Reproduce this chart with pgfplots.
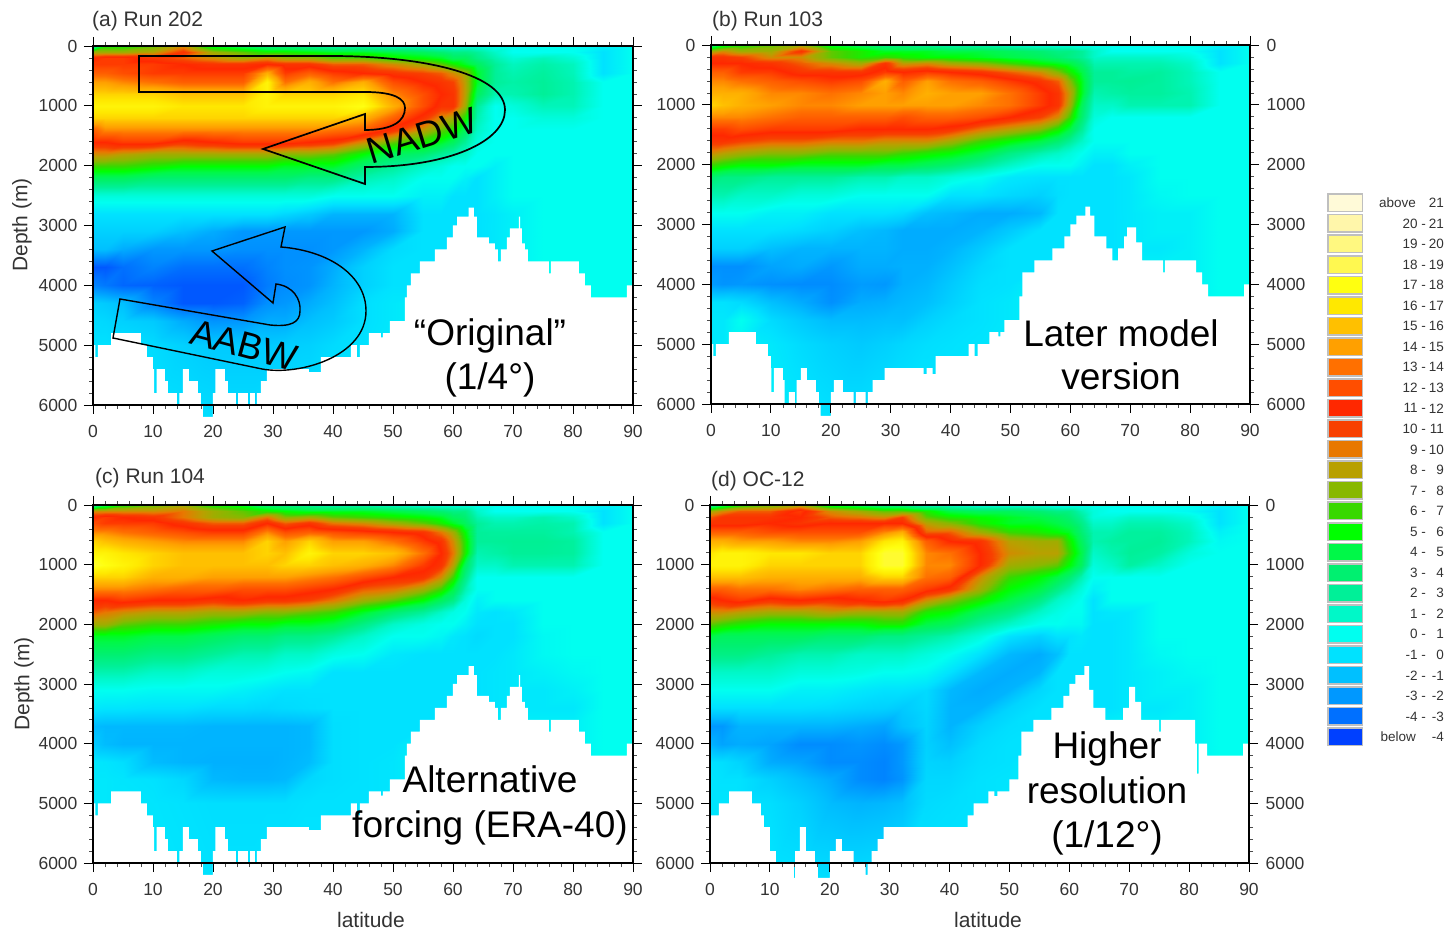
\documentclass[border=0pt]{standalone}
\usepackage{pgfplots}
\pgfplotsset{compat=1.18}
\usepackage{fontspec}
\setmainfont{Liberation Sans}
\definecolor{tk}{HTML}{333333}
\pgfplotsset{colormap={moc}{
rgb255=(0,64,255) rgb255=(0,112,255) rgb255=(0,152,255) rgb255=(0,192,255) rgb255=(0,226,255)
rgb255=(0,255,240) rgb255=(0,248,200) rgb255=(0,240,152) rgb255=(0,240,112) rgb255=(0,248,72)
rgb255=(0,255,0) rgb255=(56,216,0) rgb255=(136,184,0) rgb255=(184,160,0) rgb255=(232,120,0)
rgb255=(248,64,0) rgb255=(255,40,0) rgb255=(255,78,0) rgb255=(255,112,0) rgb255=(255,160,0)
rgb255=(255,192,0) rgb255=(255,232,0) rgb255=(255,255,16) rgb255=(255,248,80) rgb255=(255,248,128)
rgb255=(255,246,170) rgb255=(255,250,216)}}
% grid of the field: latitudes of the columns
\foreach \x [count=\i] in {0,2,5,10,15,20,25,29,32,36,40,45,50,55,58,60,62,64,67,70,75,80,85,90}{\expandafter\xdef\csname lat\i\endcsname{\x}}
\newcommand\R[2]{\foreach \v [count=\i] in {#2}{\xdef\cl{\cl (\csname lat\i\endcsname,#1) [\v]}}}
% ---- panel a
\gdef\cl{}
\R{0}{2,6,6,7,9,5,4,3,3,2.5,2,2,1.5,1.5,1,1,1,1,.5,.5,.5,.5,0,.5}
\R{100}{8,8,8,8.5,11,8,7,6,6,5.5,5,5,4.5,4,3.5,3,3,2.5,1.5,.5,.5,.5,-.5,.5}
\R{200}{11.5,12,12,11,10,9,8,9,8,8,7,7,6,5.5,5,4,4,3,2,1.2,1.8,1.2,-.5,.5}
\R{300}{12,12,12,12,11.5,11,11,11.5,11,11,10,10,9,8,7,6,5,4,2.5,1.7,2.2,1.7,-.5,.5}
\R{450}{13,13,12.5,12,12,12,12,15,12,13,12,11.5,11,10.5,10,9,8,5,2.5,2,2.4,1.8,-.5,.5}
\R{600}{14.5,14.5,14,13.5,13,13,13,17,13.5,15,13.5,15,12.5,11.5,11,10.5,8.5,5,2.5,2.2,2.5,2,.5,.5}
\R{800}{16,16,16,16,15.5,15.5,15.5,17,16,16,16,16.5,14,12.5,11.5,11,8.5,4,2,2,2.5,2,.5,.5}
\R{1000}{17,17,17,17,16.5,16.5,16.5,17,17,17,17,17.5,15,12.5,11,11,8,2.5,.5,1,1.8,1.8,.5,.5}
\R{1200}{16,16,16,16,16,16,16,16,16,16,16,15,13,11,9,8,6,2,.5,.5,1,1,.5,.5}
\R{1400}{13,14,14,14,14,14,14,14,14,14,13.5,13,11,8.5,7,6,4,1.5,.5,.5,.5,.5,.5,.5}
\R{1600}{11.5,11.5,12,12,11,11.5,12,12,12,11.5,11,9,7,6,5,4,2.5,1,.5,.5,.5,.5,.5,.5}
\R{1800}{9,9,8.5,8,8,8,8,8,7.5,7.5,7,5.5,4,3.5,2.5,2,1.5,.5,.5,.5,.5,.5,.5,.5}
\R{2000}{6.5,6.5,6.5,6,5.5,5.5,5.5,5.5,5,5,5,3.5,2.5,1.5,1,.5,.5,.5,0,.5,.5,.5,.5,.5}
\R{2200}{4,4,4,3.5,3.5,3.5,3.5,3.5,3.5,3,3,2,1.5,.5,.5,.5,0,-.5,0,.5,.5,.5,.5,.5}
\R{2500}{1,1,1,1,1,1,1,1,1,1,.5,.5,.5,0,0,-.5,-.5,-.5,0,.5,.5,.5,.5,.5}
\R{2800}{-.5,-.5,-.5,-.5,-.5,-.5,-.5,-.5,-.8,-1.2,-1.8,-1.8,-1.8,-.5,-.5,-.5,-.5,-.5,-.3,0,.5,.5,.5,.5}
\R{3100}{-1,-1,-1,-1,-1.5,-2,-2.5,-2.5,-2.5,-2.5,-2.5,-2.5,-2,-.5,-.5,-.5,-.5,-.5,-.3,0,.5,.5,.5,.5}
\R{3400}{-1.5,-1.5,-2,-2.5,-2.5,-2.5,-2.7,-2.7,-2.7,-2.7,-2.5,-1.8,-.7,-.5,-.5,-.5,-.5,-.5,-.3,0,.5,.5,.5,.5}
\R{3700}{-4,-4,-3.5,-3,-3.5,-3.5,-3.5,-3,-2.7,-2.6,-2,-1,-.5,-.5,-.5,-.5,-.5,-.5,-.3,0,.5,.5,.5,.5}
\R{4000}{-3,-3.3,-3.7,-3.8,-4,-4,-4,-3.2,-2.8,-2.6,-1.8,-1,-.5,-.5,0,0,0,0,0,0,.5,.5,.5,.5}
\R{4300}{-1,-1.2,-1.5,-3,-4,-4,-3.8,-2.7,-2.5,-2,-1.5,-.6,-.3,0,0,0,0,0,0,0,.5,.5,.5,.5}
\R{4600}{-.7,-.8,-1,-1.2,-2,-2.6,-2.5,-2,-2,-1.5,-1.2,-.6,-.3,0,0,0,0,0,0,0,.5,.5,.5,.5}
\R{5000}{-.5,-.5,-.5,-.7,-1,-1.2,-1.2,-1.2,-1.1,-1,-.7,-.5,-.3,0,0,0,0,0,0,0,.5,.5,.5,.5}
\R{6260}{-.3,-.3,-.3,-.4,-.5,-.6,-.6,-.5,-.4,-.4,-.4,-.3,-.3,0,0,0,0,0,0,0,.5,.5,.5,.5}
\global\let\fieldA\cl
% ---- panel b
\gdef\cl{}
\R{0}{3,5,6,7,8,5,4,3,3,2.5,2,2,1.5,1,1,1,.5,.5,.5,.5,.5,.5,0,.5}
\R{100}{8,9,8,8,11,7,6,5,5,5,4.5,4.5,4,3.5,3,3,2.5,1.5,.5,.5,.5,.5,-.5,.5}
\R{200}{11,11,10.5,9,9,7,6,6.5,6,5.5,5.5,5,4.5,4,3.5,3,2.5,1.5,1.5,1.5,1.5,1,-.5,.5}
\R{300}{11.5,11.5,11.5,11,10,9,8,11,8.5,9,8,7.5,6.5,5.5,5,4.5,3.5,2,2,2,2,1.5,-.5,.5}
\R{450}{13,13,12,12,11,11,11,12,11.5,12,11.5,11,10,9,7.5,6,4.5,2.5,2.5,2.3,2.4,1.8,.5,.5}
\R{600}{14,14,13.5,13,12.5,12,12.5,15,13,14.5,13.5,13,12,11,10,7.5,5,2.5,2.5,2.6,2.4,1.8,.5,.5}
\R{800}{15,15,15,14,14,13.5,14,14.5,14,15,14.5,14.5,13.5,12,11,8.5,5,2,2.2,2.4,2.4,2,.5,.5}
\R{1000}{16,15.5,15,14.5,14,14,14.5,14.5,14.5,14.5,14.5,14,13.5,12,11,8,4,1.5,1.5,2,2,2,.5,.5}
\R{1200}{14,14,14,13.5,13,13,13,13,12.5,13,13,12.5,11.5,10.5,9,6.5,3.5,1,.5,.5,.5,.5,.5,.5}
\R{1400}{12,12,12.5,12,12,12,11.5,11.5,11.5,11.5,11,9.5,8.5,7.5,6,4.5,2.5,.5,.5,.5,.5,.5,.5,.5}
\R{1600}{11,11,10.5,10,10,9.5,9.5,9,9,9,8,6.5,5.5,4.5,3.5,2.5,1.5,.5,.5,.5,.5,.5,.5,.5}
\R{1800}{9,8.5,8,7.5,7.5,7,7,7,6.5,6,5.5,4.5,3,2,1.5,1,.5,0,0,.5,.5,.5,.5,.5}
\R{2000}{6.5,6,5.5,5.5,5,5,5,4.5,4.5,4,3.5,2.5,1.5,.5,.5,.5,0,-.5,-.5,0,.5,.5,.5,.5}
\R{2200}{3.5,3,3,2.5,2.5,2.5,2,2,1.5,1.5,1,.5,-.3,-.5,-.5,-.5,-.5,-.5,-.5,-.3,.5,.5,.5,.5}
\R{2500}{2,2,1.5,1.5,1,1,.5,.5,.5,.5,-.5,-.5,-.8,-1,-.6,-.5,-.5,-.5,-.5,-.3,.3,.5,.5,.5}
\R{2800}{.5,.5,.5,0,0,-.5,-.5,-.5,-.7,-1.5,-1.7,-2,-2,-1.7,-.5,-.5,-.5,-.5,-.5,-.3,0,0,.5,.5}
\R{3100}{-.5,-.5,-.5,-.5,-.7,-1,-1.5,-1.7,-2,-2,-2,-1.8,-1.2,-.5,-.5,-.5,-.5,-.5,-.5,-.3,0,0,.5,.5}
\R{3400}{-1,-1,-1,-1.5,-1.8,-1.8,-1.8,-1.8,-2,-2,-1.8,-1.2,-.5,-.5,-.5,-.5,-.5,-.5,-.5,-.3,-.3,0,.5,.5}
\R{3700}{-2.7,-2.7,-2.7,-2.2,-2,-2.5,-2,-2,-1.9,-1.9,-1.5,-.8,-.5,-.5,0,0,0,0,0,0,0,0,.5,.5}
\R{4000}{-2.4,-2.6,-2.5,-2.7,-2.8,-2.8,-2.4,-2.5,-1.9,-1.7,-1.2,-.6,-.5,0,0,0,0,0,0,0,0,0,.5,.5}
\R{4300}{-.5,-.5,-.7,-1.5,-2,-2.7,-2,-1.9,-1.7,-1.5,-1,-.5,-.3,0,0,0,0,0,0,0,0,0,.5,.5}
\R{4600}{-.3,-.3,.5,-.7,-1.2,-1.6,-1.6,-1.5,-1.5,-1,-.7,-.5,-.3,0,0,0,0,0,0,0,0,0,.5,.5}
\R{5000}{-.3,-.3,0,-.3,-.7,-1,-1.2,-1,-.8,-.6,-.5,-.4,-.3,0,0,0,0,0,0,0,0,0,.5,.5}
\R{6260}{-.3,-.3,0,0,-.3,-.5,-.5,-.4,-.3,-.3,-.3,-.3,-.3,0,0,0,0,0,0,0,0,0,.5,.5}
\global\let\fieldB\cl
% ---- panel c
\gdef\cl{}
\R{0}{2,4,6,7,8,6,5,3.5,3,2.5,2,2,1.5,1,1,1,1,.5,.5,.5,.5,.5,0,.5}
\R{100}{9,9,9,9,9.5,8,7,6,5.5,5,5,5,4.5,4,3.5,3,3,1.5,.5,.5,.5,.5,-.5,.5}
\R{200}{11.5,12,11.5,11,9.5,8,7.5,9.5,7.5,8,7,6.5,6,5.5,5,4,3.5,2,1.5,1.5,2,1.5,-.5,.5}
\R{300}{12.5,12,12,12,11,10,10,11.5,10,11,9.5,9,8,7,6,5,4,2.5,2,2,2.2,2,-.5,.5}
\R{450}{14,14,13.5,13,12.5,12,12,14,12.5,13,12.5,12,11.5,11,9.5,8,5.5,2.5,2.4,2.4,2.4,2,.5,.5}
\R{600}{16,15.5,15,14.5,14,14,14,16,14.5,16,14.5,14.5,13.5,12,11,9,6,2.5,2.5,2.6,2.6,2.4,.5,.5}
\R{800}{17,17,16.5,16,15.5,15.5,15.5,16,15.5,17,16,16,15.5,13.5,11.5,9.5,6,2,2.2,2.5,2.5,2.4,.5,.5}
\R{1000}{18,17.5,17,16,15.5,15.5,15.5,15.5,16,16,15.5,15,14,12,11,8.5,4,1.5,1.5,2,2,2,.5,.5}
\R{1200}{16,16,16,15,15,14.5,14.5,14.5,14.5,14,13.5,12.5,11.5,11,9,6.5,3,.5,.5,.5,.5,.5,.5,.5}
\R{1400}{14,14,14,13.5,13,13,12.5,12.5,12.5,12,11.5,10,9.5,8,6.5,4.5,2,.5,.5,.5,.5,.5,.5,.5}
\R{1600}{11.5,11.5,12,11.5,11.5,11,11.5,11,11,10.5,9.5,8,7,5.5,4,3,1,0,.5,.5,.5,.5,.5,.5}
\R{1800}{10,9.5,9,8.5,8.5,8,8,7.5,7.5,7,6.5,5,3.5,2.5,1.5,.8,.5,-.3,-.5,-.3,.5,.5,.5,.5}
\R{2000}{8,8,7,6.5,6.5,6,5.5,5.5,5,5,4.5,3,1.5,.8,.5,.5,0,-.5,-.5,-.5,.5,.5,.5,.5}
\R{2200}{5,5,5,4.5,4.5,4,3.5,3.5,3,3,2.5,1.5,.5,.5,.2,-.3,-.5,-.7,-.5,-.5,.3,.5,.5,.5}
\R{2500}{3.5,3.5,3.5,3,3,2.5,2,2,1.5,1.5,.8,.5,-.3,-.5,-.5,-.5,-.5,-.5,-.5,-.3,.3,.5,.5,.5}
\R{2800}{2,2,2,1.5,1.5,1,1,.8,.5,.3,-.5,-.5,-.5,-.5,-.5,-.5,-.5,-.5,-.4,-.3,0,.3,.5,.5}
\R{3100}{.5,.5,.5,.3,.3,.3,0,-.3,-.5,-.5,-.5,-.5,-.5,-.5,-.5,-.5,-.5,-.5,-.4,-.3,-.3,0,.5,.5}
\R{3400}{-.3,-.4,-.4,-.5,-.5,-.7,-.7,-.8,-.7,-.6,-.5,-.5,-.5,-.5,-.5,-.5,-.5,-.5,-.4,-.3,-.3,-.3,.5,.5}
\R{3700}{-1.6,-1.7,-1.7,-1.7,-1.7,-1.8,-1.8,-1.8,-1.8,-1.7,-.6,-.5,-.5,-.5,0,0,0,0,0,0,0,0,.5,.5}
\R{4000}{-1.2,-1.6,-1.8,-1.8,-1.8,-1.8,-1.8,-1.8,-1.8,-1.7,-.6,-.5,-.5,0,0,0,0,0,0,0,0,0,.5,.5}
\R{4300}{-.3,-.4,-.6,-1.6,-1.8,-1.9,-1.9,-1.9,-1.8,-1.6,-.6,-.5,-.4,0,0,0,0,0,0,0,0,0,.5,.5}
\R{4600}{-.3,-.3,-.4,-.5,-.8,-1.7,-1.8,-1.8,-1.7,-.8,-.6,-.5,-.4,0,0,0,0,0,0,0,0,0,.5,.5}
\R{5000}{-.3,-.3,-.3,-.4,-.5,-.6,-.6,-.6,-.6,-.5,-.5,-.5,-.3,0,0,0,0,0,0,0,0,0,.5,.5}
\R{6260}{-.3,-.3,-.3,-.3,-.4,-.5,-.5,-.4,-.4,-.4,-.4,-.3,-.3,0,0,0,0,0,0,0,0,0,.5,.5}
\global\let\fieldC\cl
% ---- panel d
\gdef\cl{}
\R{0}{2,4,6,7,8,5,4,3,3,1.5,1.5,1,1,1,.5,.5,.5,.5,.5,.5,.5,.5,0,.5}
\R{100}{8,9,10,10,12,9,8,7,7,6,4.5,4,4,3.5,3,3,2,1,.5,.5,.5,.3,-.5,.5}
\R{200}{10,11,11,11,11.5,10,9.5,9,10.5,7,6,5.5,5,4.5,4,3.5,2.5,1,1,1.5,1.5,1,-.5,.5}
\R{300}{11,11,11,11.5,11,11.5,11.5,11.5,11.5,8.5,7.5,6,5,5,4.5,4,3,1.5,1.5,2,2,1.5,-.5,.5}
\R{450}{13,13,13,12.5,12.5,12.5,12.5,14,15,10,10,8,6.5,6,5.5,5,3.5,2,2,2.4,2.4,1.8,0,.5}
\R{600}{15,15,14.5,14.5,14,14,14.5,16.5,17,13,11.5,11,8.5,8,8,6,4,2,2.3,2.4,2.5,1.8,.3,.5}
\R{800}{16.5,17,17,16.5,16.5,16,16,18,18,14,13.5,11.5,9,8.5,8.5,6.5,4.5,1.5,2,2.5,2.3,1,.5,.5}
\R{1000}{17,17,17,16,16,16,16,18,18,14,14,11.5,8,7.5,7,5.5,4,1,1.5,2.3,1.5,.5,.5,.5}
\R{1200}{15.5,15.5,15.5,15,15,15,15,16,16,13.5,13,9,6.5,5.5,4.5,3.5,2,.5,.5,.5,.5,.5,.5,.5}
\R{1400}{13,13,13.5,13.5,14,13.5,13,13,13,12,11,8,5.5,4.5,3,2,1,0,.5,.5,.5,.5,.5,.5}
\R{1600}{11,11.5,12,11,11.5,11,11.5,12,11.5,9,7.5,6,4.5,3,1.5,1,.5,-.5,.5,.5,.5,.5,.5,.5}
\R{1800}{9,9,8.5,8,8,8.5,8,8,8,6,5.5,4,3,1.5,.8,.5,.5,-.5,-.3,-.3,.5,.5,.5,.5}
\R{2000}{7,6.5,6,5.5,5.5,5.5,5.5,6,6,4.5,4,2.5,1.5,.5,.5,.3,.3,-.5,-.5,-.3,.5,.5,.5,.5}
\R{2200}{4.5,4,4,4,4,3.5,3.5,3,3,2.5,2,1,-.5,-1,-.5,-.5,-.3,-.5,-.5,-.3,.5,.5,.5,.5}
\R{2500}{3,3,3,2.5,2,2,1.5,1.5,1.5,1,.5,-.5,-1.7,-2,-1.5,-.5,-.5,-.5,-.5,-.3,.3,.5,.5,.5}
\R{2800}{1.5,1.5,1.5,1.5,1,1,.8,.5,.5,.3,-.5,-1.7,-2,-1.8,-.5,-.5,-.5,-.5,-.5,-.3,0,.3,.5,.5}
\R{3100}{.5,.5,.5,.5,0,0,-.3,-.5,-.5,-.7,-1.7,-2,-1.8,-.8,-.5,-.5,-.5,-.5,-.5,-.3,0,0,.5,.5}
\R{3400}{-.6,-.6,-.6,-.6,-.6,-.7,-.9,-1,-1.2,-.8,-1.8,-1.8,-.9,-.5,-.5,-.5,-.5,-.5,-.5,-.3,-.3,0,.5,.5}
\R{3700}{-2.5,-2.5,-1.8,-1.8,-1.8,-1.8,-2,-2.2,-1.5,-.9,-1.8,-1,-.6,-.5,0,0,0,0,0,0,0,0,.5,.5}
\R{4000}{-1.8,-2.2,-2,-2.2,-2.8,-2.8,-2.6,-2.8,-2.5,-1,-1.5,-.7,-.5,-.5,0,0,0,0,0,0,0,0,.5,.5}
\R{4300}{-.5,-.6,-.9,-2,-2.2,-2.8,-2.8,-3,-2.5,-.9,-1,-.6,-.5,0,0,0,0,0,0,0,0,0,.5,.5}
\R{4600}{-.4,-.5,-.5,-1,-1.5,-2,-2.8,-3,-2.6,-.8,-.8,-.5,-.4,0,0,0,0,0,0,0,0,0,.5,.5}
\R{5000}{-.4,-.4,-.5,-.6,-1,-1.6,-1.8,-1.7,-1.5,-.7,-.6,-.5,-.3,0,0,0,0,0,0,0,0,0,.5,.5}
\R{6260}{-.3,-.3,-.3,-.4,-.5,-.6,-.6,-.5,-.4,-.4,-.4,-.3,-.3,0,0,0,0,0,0,0,0,0,.5,.5}
\global\let\fieldD\cl

\newcommand\field[1]{\edef\temp{\noexpand\addplot[surf,shader=interp,mesh/rows=24,point meta=explicit,forget plot] coordinates {#1};}\temp}
\newcommand\seafloor[1]{\addplot[const plot,fill=white,draw=none,forget plot] coordinates {#1};}
\def\floorA{(0,6290)(0,5000)(.4,5200)(.8,5000)(3,4800)(8,5000)(9,5200)(10,5400)(10.2,5800)(10.6,5400)(12,5600)(12.5,5800)(14,6000)(14.4,5800)(15,5400)(16,5600)(17.5,5800)(18,6000)(18.3,6200)(20,5800)(20.4,5400)(22,5600)(22.5,5800)(23.8,6000)(24.2,5800)(25.8,6000)(26.2,5800)(27,6000)(27.3,5800)(28,5600)(29,5400)(36,5450)(38,5200)(43,5000)(44,5200)(44.5,5000)(46,4800)(48,4870)(48.3,4800)(49.5,4600)(52,4200)(52.3,4000)(53,3800)(54.5,3600)(57,3400)(59,3200)(60,3000)(60.7,2850)(62.6,2700)(63.5,2850)(64,3200)(66,3300)(67,3400)(67.5,3600)(68,3400)(69,3200)(69.5,3050)(71,2850)(71.2,3050)(71.5,3300)(72,3400)(72.5,3600)(76,3800)(76.3,3600)(81,3800)(82,4000)(83,4200)(89,4000)(90,4000)(90,6290)}
\def\floorB{(0,6290)(0,5000)(.4,5200)(.8,5000)(3,4800)(7.5,5000)(9.5,5200)(10,5400)(10.1,5800)(10.5,5400)(12,5600)(12.3,6000)(13,5800)(14,6000)(14.3,5600)(15,5400)(16,5600)(17.5,5800)(18,6000)(18.3,6200)(20,5800)(20.5,5600)(22,5800)(23.8,6000)(24.2,5800)(25.8,6000)(26.2,5800)(27,5600)(29,5400)(35.5,5500)(36,5400)(37,5500)(37.5,5200)(43,5000)(44,5200)(44.5,5000)(46.5,4800)(48,4870)(48.3,4800)(49,4600)(51.5,4200)(52,3800)(54,3600)(57,3400)(59,3200)(60,3000)(61,2850)(62.5,2700)(63.3,2850)(64,3200)(66,3400)(67,3600)(68,3400)(69,3200)(69.5,3050)(71,3300)(72,3600)(75.5,3800)(75.8,3600)(81,3800)(82,4000)(83,4200)(89,4000)(90,4000)(90,6290)}
\def\floorD{(0,6290)(0,5200)(1.5,5000)(3.2,4800)(7,5000)(8.5,5200)(9,5400)(10,5800)(11,6000)(14,6250)(14.2,5800)(15,5400)(16,5800)(17.5,6000)(18,6250)(20,5800)(21,5600)(22,5800)(24,6000)(26,6200)(26.3,6000)(27,5800)(28,5600)(29,5400)(43,5200)(44,5000)(46.5,4800)(47.5,4880)(48,4800)(50,4600)(51.5,4200)(52,3800)(54,3600)(57,3400)(59,3200)(60,3000)(61,2850)(62.5,2700)(63.3,3100)(64,3400)(66,3600)(69,3400)(70,3050)(71,3300)(72,3600)(75,3800)(75.3,3600)(81,4000)(81.3,4500)(81.6,4000)(83,4200)(89,4000)(90,4000)(90,6290)}

\pgfplotsset{panel/.style={
  scale only axis,anchor=south west,
  xmin=0,xmax=90,ymin=0,ymax=6000,y dir=reverse,clip=false,axis on top,
  colormap name=moc,point meta min=-4.5,point meta max=21.5,
  xtick={0,10,...,90},ytick={0,1000,...,6000},minor x tick num=4,minor y tick num=4,
  tick align=outside,major tick length=9pt,minor tick length=4pt,
  tick style={black,line width=.9pt},minor tick style={black!70,line width=.7pt},
  axis line style={line width=1.1pt},
  scaled ticks=false,
  /pgf/number format/set thousands separator={},
  /pgf/number format/assume math mode=true,
  tick label style={font=\fontsize{17.5}{20}\selectfont,text=tk},
  xticklabel style={yshift=-8pt},
  yticklabel style={xshift=-3pt},
  xtick pos=both,ytick pos=both,
}}
\pgfplotsset{rightlabels/.style={
  scale only axis,anchor=south west,
  xmin=0,xmax=90,ymin=0,ymax=6000,y dir=reverse,
  axis x line=none,axis y line*=right,ytick={0,1000,...,6000},
  tick align=outside,major tick length=9pt,
  tick style={draw=none},axis line style={draw=none},
  /pgf/number format/set thousands separator={},scaled ticks=false,
  /pgf/number format/assume math mode=true,
  tick label style={font=\fontsize{17.5}{20}\selectfont,text=tk},
  yticklabel style={xshift=4pt},
}}
\newcommand\lab[4][0]{\node[rotate=#1,text=black,font=\fontsize{37}{40}\selectfont,inner sep=0pt] at (#2pt,#3pt) {#4};}
\newcommand\ttl[3]{\node[anchor=west,text=tk,font=\fontsize{21}{24}\selectfont,inner sep=0pt] at (#1pt,#2pt) {#3};}
\newcommand\keyrow[4]{\fill[black!25] (1327pt,#1pt-9.5pt) rectangle (1363pt,#1pt+9.5pt);\fill[#2] (1328.5pt,#1pt-8pt) rectangle (1361.5pt,#1pt+8pt);
  \node[anchor=east,inner sep=0pt,text=tk,font=\fontsize{13.5}{15}\selectfont] at (#3,#1pt) {#4};}
\begin{document}
\begin{tikzpicture}[x=1pt,y=1pt]
\path[use as bounding box] (0,0) rectangle (1449,931);
% panel a
\begin{axis}[panel,at={(93pt,526pt)},width=540pt,height=359pt]
\field{\fieldA}
\seafloor{\floorA}
\end{axis}
% panel b
\begin{axis}[panel,at={(711pt,527pt)},width=539pt,height=359pt]
\field{\fieldB}
\seafloor{\floorB}
\end{axis}
\begin{axis}[rightlabels,at={(711pt,527pt)},width=539pt,height=359pt]\end{axis}
% panel c
\begin{axis}[panel,at={(93pt,68pt)},width=540pt,height=358pt]
\field{\fieldC}
\seafloor{\floorA}
\end{axis}
% panel d
\begin{axis}[panel,at={(710pt,68pt)},width=539pt,height=358pt]
\field{\fieldD}
\seafloor{\floorD}
\end{axis}
\begin{axis}[rightlabels,at={(710pt,68pt)},width=539pt,height=358pt]\end{axis}
% titles and axis names
\ttl{92}{910}{(a) Run 202}
\ttl{712}{910}{(b) Run 103}
\ttl{95}{453}{(c) Run 104}
\ttl{711}{450}{(d) OC-12}
\node[rotate=90,text=tk,font=\fontsize{21}{24}\selectfont,inner sep=0pt] at (22,706) {Depth (m)};
\node[rotate=90,text=tk,font=\fontsize{21}{24}\selectfont,inner sep=0pt] at (24,247) {Depth (m)};
\node[text=tk,font=\fontsize{21}{24}\selectfont,inner sep=0pt] at (371,11) {latitude};
\node[text=tk,font=\fontsize{21}{24}\selectfont,inner sep=0pt] at (988,11) {latitude};
% circulation arrows
\draw[line width=1.7pt,black,line join=miter] (139,875) -- (139,839) -- (365,839) .. controls (395,839) and (405,832) .. (405,823) .. controls (405,810) and (393,801) .. (365,801) -- (365,817) -- (263,782) -- (365,747) -- (365,764) .. controls (450,764) and (505,790) .. (505,821) .. controls (505,855) and (430,875) .. (330,875) -- cycle;
\draw[line width=1.4pt,black,line join=miter] (120,632) -- (113,593) -- (262,562) .. controls (300,555) and (366,575) .. (366,620) .. controls (366,655) and (330,680) .. (281,684) -- (285,704) -- (212,680) -- (273,628) -- (276,647) .. controls (293,645) and (301,632) .. (300,620) .. controls (300,608) and (290,604) .. (270,606) -- cycle;
\lab[17]{422}{795}{NADW}
\lab[-15]{244}{586}{AABW}
\lab{490}{595}{“Original”}
\lab{490}{551}{(1/4°)}
\lab{1121}{598}{Later model}
\lab{1121}{555}{version}
\lab{490}{152}{Alternative}
\lab{490}{103}{forcing (ERA-40)}
\lab{1107}{182}{Higher}
\lab{1107}{141}{resolution}
\lab{1107}{93}{(1/12°)}
% colour key
\foreach \yy/\cc/\aa/\bb in {
728/FFFAD8/above/21,707.5/FFF6AA/20 -/21,687/FFF880/19 -/20,666.4/FFF850/18 -/19,645.9/FFFF10/17 -/18,625.4/FFE800/16 -/17,604.8/FFC000/15 -/16,584.3/FFA000/14 -/15,563.7/FF7000/13 -/14,543.2/FF4E00/12 -/13,522.7/FF2800/11 -/12,502.1/F84000/10 -/11,481.6/E87800/9 -/10,461/B8A000/8 -/9,440.5/88B800/7 -/8,420/38D800/6 -/7,399.4/00FF00/5 -/6,378.9/00F848/4 -/5,358.3/00F070/3 -/4,337.8/00F098/2 -/3,317.3/00F8C8/1 -/2,296.7/00FFF0/0 -/1,276.2/00E2FF/-1 -/0,255.6/00C0FF/-2 -/-1,235.1/0098FF/-3 -/-2,214.6/0070FF/-4 -/-3,194/0040FF/below/-4}{
  \definecolor{cc}{HTML}{\cc}
  \def\test{above}\ifx\aa\test\def\kx{1416pt}\else\def\test{below}\ifx\aa\test\def\kx{1416pt}\else\def\kx{1426pt}\fi\fi
  \keyrow{\yy}{cc}{\kx}{\aa}
  \node[anchor=east,inner sep=0pt,text=tk,font=\fontsize{13.5}{15}\selectfont] at (1444,\yy) {\bb};
}
\end{tikzpicture}
\end{document}
